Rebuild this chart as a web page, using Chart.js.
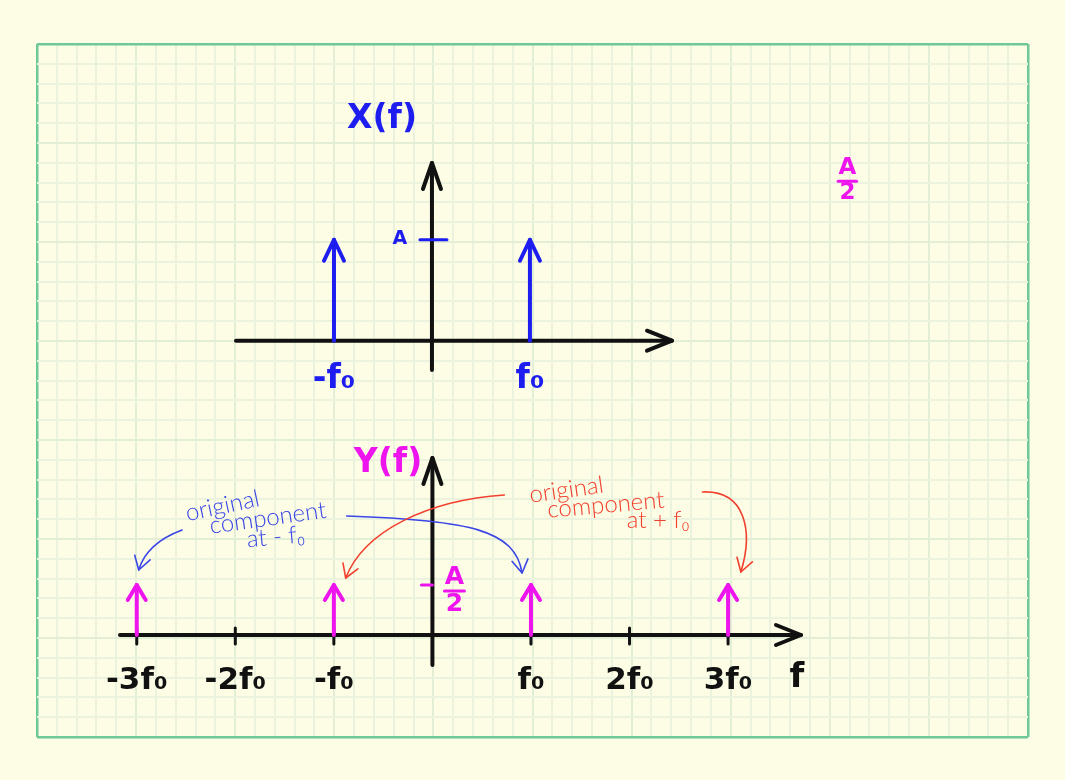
<!DOCTYPE html>
<html><head><meta charset="utf-8">
<script src="https://cdn.jsdelivr.net/npm/chart.js@4.4.1/dist/chart.umd.min.js"></script>
<style>
html,body{margin:0;padding:0;background:#fdfde6;width:1065px;height:780px;overflow:hidden}
canvas{position:absolute;left:0;top:0}
</style></head><body>
<canvas id="grid" width="1065" height="780"></canvas>
<canvas id="top" width="1065" height="780"></canvas>
<canvas id="bottom" width="1065" height="780"></canvas>
<script>
// ---------- data ----------
const topFreqs = [-1, 1];              // multiples of f0
const topAmps = [1, 1];                // multiples of A
const topTickValues = [-1, 1];
const topTickLabels = ['-f₀', 'f₀'];
const topAmpLevel = 1;
const topAmpLabel = 'A';
const topTitle = 'X(f)';

const bottomFreqs = [-3, -1, 1, 3];
const bottomAmps = [0.5, 0.5, 0.5, 0.5];
const bottomTickValues = [-3, -2, -1, 1, 2, 3];
const bottomTickLabels = ['-3f₀', '-2f₀', '-f₀', 'f₀', '2f₀', '3f₀'];
const bottomAmpLevel = 0.5;
const bottomTitle = 'Y(f)';
const freqAxisLabel = 'f';

const noteMinus = ['original', 'component', 'at - f₀'];
const notePlus = ['original', 'component', 'at + f₀'];

const gridCols = 50, gridRows = 35;

// ---------- colours ----------
const BLUE = '#1d1df0', MAG = '#ee14ee', INK = '#111111';
const NOTE_BLUE = '#3a46e6', NOTE_RED = '#f2402e';
const HAND = "'DejaVu Sans'";

// ---------- helpers ----------
function seg(ctx, x1, y1, x2, y2) { ctx.beginPath(); ctx.moveTo(x1, y1); ctx.lineTo(x2, y2); ctx.stroke(); }
function head(ctx, tx, ty, fx, fy, len, half) {
  const dx = tx - fx, dy = ty - fy, d = Math.hypot(dx, dy) || 1;
  const ux = dx / d, uy = dy / d, bx = tx - ux * len, by = ty - uy * len;
  ctx.beginPath(); ctx.moveTo(bx - uy * half, by + ux * half); ctx.lineTo(tx, ty); ctx.lineTo(bx + uy * half, by - ux * half); ctx.stroke();
}
function txt(ctx, s, x, y, font, color, rot) {
  ctx.save(); ctx.translate(x, y); ctx.rotate((rot || 0) * Math.PI / 180);
  ctx.font = font; ctx.fillStyle = color; ctx.textAlign = 'center'; ctx.textBaseline = 'middle';
  ctx.fillText(s, 0, 0); ctx.restore();
}
function frac(ctx, x, y, size, color) {
  txt(ctx, 'A', x, y - size * 0.55, 'bold ' + size + 'px ' + HAND, color);
  ctx.save(); ctx.strokeStyle = color; ctx.lineWidth = 3; ctx.lineCap = 'round';
  seg(ctx, x - size * 0.4, y, x + size * 0.4, y); ctx.restore();
  txt(ctx, '2', x, y + size * 0.52, 'bold ' + size + 'px ' + HAND, color);
}
function stems(freqs, amps, color) {
  return freqs.map((f, i) => ({ data: [{ x: f, y: 0 }, { x: f, y: amps[i] }], showLine: true,
    borderColor: color, borderWidth: 4, pointRadius: 0, borderCapStyle: 'round', clip: false }));
}

// ---------- background grid ----------
new Chart(document.getElementById('grid'), {
  type: 'scatter', data: { datasets: [] },
  options: {
    responsive: false, animation: false, events: [],
    layout: { padding: { left: 37, top: 44, right: 37, bottom: 43 } },
    plugins: { legend: { display: false }, tooltip: { enabled: false } },
    scales: {
      x: { type: 'linear', min: 0, max: gridCols, ticks: { display: false, stepSize: 1, maxTicksLimit: 200 },
        grid: { drawTicks: false,
          color: c => (c.tick.value === 0 || c.tick.value === gridCols) ? '#6fc898' : (c.tick.value % 5 === 0 ? '#e2eed6' : '#ebf3df'),
          lineWidth: c => (c.tick.value === 0 || c.tick.value === gridCols) ? 2.5 : 2 },
        border: { display: false } },
      y: { type: 'linear', min: 0, max: gridRows, ticks: { display: false, stepSize: 1, maxTicksLimit: 200 },
        grid: { drawTicks: false,
          color: c => (c.tick.value === 0 || c.tick.value === gridRows) ? '#6fc898' : (c.tick.value % 5 === 0 ? '#e2eed6' : '#ebf3df'),
          lineWidth: c => (c.tick.value === 0 || c.tick.value === gridRows) ? 2.5 : 2 },
        border: { display: false } }
    }
  }
});

// ---------- spectrum plugin ----------
function spectrumPlugin(o) {
  return {
    id: 'spec_' + o.name,
    beforeDatasetsDraw(chart) {
      const { ctx, scales: { x, y } } = chart;
      const x0 = x.getPixelForValue(0), y0 = y.getPixelForValue(0);
      ctx.save();
      ctx.strokeStyle = INK; ctx.lineWidth = 4; ctx.lineCap = 'round'; ctx.lineJoin = 'round';
      seg(ctx, x.left, y0, x.right, y0);
      head(ctx, x.right, y0, x.left, y0, 25, 10);
      seg(ctx, x0, y.bottom, x0, y.top);
      head(ctx, x0, y.top, x0, y.bottom, 26, 9);
      if (o.tickMarks) {
        ctx.lineWidth = 3;
        o.tickValues.forEach(v => { const px = x.getPixelForValue(v); seg(ctx, px, y0 - 7, px, y0 + 9); });
      }
      ctx.restore();
    },
    afterDatasetsDraw(chart) {
      const { ctx, scales: { x, y } } = chart;
      const x0 = x.getPixelForValue(0), y0 = y.getPixelForValue(0);
      ctx.save();
      ctx.lineCap = 'round'; ctx.lineJoin = 'round';
      chart.data.datasets.forEach((ds, i) => {
        const pts = chart.getDatasetMeta(i).data;
        const top = pts[1], bot = pts[0];
        ctx.strokeStyle = ds.borderColor; ctx.lineWidth = 4;
        head(ctx, top.x, top.y, bot.x, bot.y, o.headLen, o.headHalf);
      });
      // frequency tick labels
      o.tickValues.forEach((v, i) => {
        txt(ctx, o.tickLabels[i], x.getPixelForValue(v), y0 + o.labelOffset, 'bold ' + o.labelSize + 'px ' + HAND, o.labelColor);
      });
      // amplitude tick + label
      const ya = y.getPixelForValue(o.ampLevel);
      ctx.strokeStyle = o.ampColor; ctx.lineWidth = 3;
      seg(ctx, x0 - o.ampTickL, ya, x0 + o.ampTickR, ya);
      o.drawAmpLabel(ctx, x0, ya);
      // title
      txt(ctx, o.title, x.getPixelForValue(o.titlePos[0]), y.getPixelForValue(o.titlePos[1]), 'bold ' + o.titleSize + 'px ' + HAND, o.titleColor);
      if (o.extra) o.extra(ctx, x, y, x0, y0);
      ctx.restore();
    }
  };
}

// ---------- X(f) ----------
new Chart(document.getElementById('top'), {
  type: 'scatter',
  data: { datasets: stems(topFreqs, topAmps, BLUE) },
  options: {
    responsive: false, animation: false, events: [],
    layout: { padding: { left: 236, right: 393, top: 163, bottom: 410 } },
    plugins: { legend: { display: false }, tooltip: { enabled: false } },
    scales: { x: { type: 'linear', display: false, min: -2, max: 2.45 },
              y: { type: 'linear', display: false, min: -0.29, max: 1.76 } }
  },
  plugins: [spectrumPlugin({
    name: 'x', tickMarks: false, tickValues: topTickValues, tickLabels: topTickLabels,
    labelOffset: 39, labelSize: 33, labelColor: BLUE, headLen: 21, headHalf: 10,
    ampLevel: topAmpLevel, ampColor: BLUE, ampTickL: 12, ampTickR: 15,
    drawAmpLabel: (ctx, x0, ya) => txt(ctx, topAmpLabel, x0 - 32, ya - 1, 'bold 19px ' + HAND, BLUE),
    title: topTitle, titlePos: [-0.51, 2.19], titleSize: 33, titleColor: BLUE,
    extra: (ctx, x, y) => frac(ctx, x.getPixelForValue(4.24), y.getPixelForValue(1.58), 23, MAG)
  })]
});

// ---------- Y(f) ----------
const notePlugin = {
  id: 'notes',
  afterDatasetsDraw(chart) {
    const { ctx, scales: { x, y } } = chart;
    const P = (a, b) => [x.getPixelForValue(a), y.getPixelForValue(b)];
    const curve = (pts, color) => {
      const p = pts.map(q => P(q[0], q[1]));
      ctx.save(); ctx.strokeStyle = color; ctx.lineWidth = 1.6; ctx.lineCap = 'round'; ctx.lineJoin = 'round';
      ctx.beginPath(); ctx.moveTo(p[0][0], p[0][1]);
      ctx.bezierCurveTo(p[1][0], p[1][1], p[2][0], p[2][1], p[3][0], p[3][1]); ctx.stroke();
      head(ctx, p[3][0], p[3][1], p[2][0], p[2][1], 13, 8);
      ctx.restore();
    };
    curve([[-2.54, 1.05], [-2.76, 0.97], [-2.92, 0.85], [-2.98, 0.65]], NOTE_BLUE);
    curve([[-0.87, 1.19], [0.38, 1.15], [0.84, 1.05], [0.91, 0.62]], NOTE_BLUE);
    curve([[0.73, 1.40], [-0.03, 1.35], [-0.69, 1.05], [-0.88, 0.57]], NOTE_RED);
    curve([[2.74, 1.43], [3.17, 1.45], [3.26, 1.05], [3.13, 0.63]], NOTE_RED);
    const f = "300 24px 'Lato'";
    let p;
    p = P(-2.13, 1.29); txt(ctx, noteMinus[0], p[0], p[1], f, NOTE_BLUE, -12);
    p = P(-1.67, 1.17); txt(ctx, noteMinus[1], p[0], p[1], f, NOTE_BLUE, -8);
    p = P(-1.59, 0.98); txt(ctx, noteMinus[2], p[0], p[1], f, NOTE_BLUE, -5);
    p = P(1.36, 1.45); txt(ctx, notePlus[0], p[0], p[1], f, NOTE_RED, -8);
    p = P(1.76, 1.30); txt(ctx, notePlus[1], p[0], p[1], f, NOTE_RED, -5);
    p = P(2.29, 1.15); txt(ctx, notePlus[2], p[0], p[1], f, NOTE_RED, 0);
  }
};

new Chart(document.getElementById('bottom'), {
  type: 'scatter',
  data: { datasets: stems(bottomFreqs, bottomAmps, MAG) },
  options: {
    responsive: false, animation: false, events: [],
    layout: { padding: { left: 120, right: 264, top: 458, bottom: 115 } },
    plugins: { legend: { display: false }, tooltip: { enabled: false } },
    scales: { x: { type: 'linear', display: false, min: -3.17, max: 3.74 },
              y: { type: 'linear', display: false, min: -0.3, max: 1.77 } }
  },
  plugins: [spectrumPlugin({
    name: 'y', tickMarks: true, tickValues: bottomTickValues, tickLabels: bottomTickLabels,
    labelOffset: 46, labelSize: 31, labelColor: INK, headLen: 15, headHalf: 9,
    ampLevel: bottomAmpLevel, ampColor: MAG, ampTickL: 11, ampTickR: 0,
    drawAmpLabel: (ctx, x0, ya) => frac(ctx, x0 + 22, ya + 6, 25, MAG),
    title: bottomTitle, titlePos: [-0.45, 1.72], titleSize: 33, titleColor: MAG,
    extra: (ctx, x, y, x0, y0) => txt(ctx, freqAxisLabel, x.right - 4, y0 + 43, 'bold 34px ' + HAND, INK)
  }), notePlugin]
});
</script>
</body></html>
